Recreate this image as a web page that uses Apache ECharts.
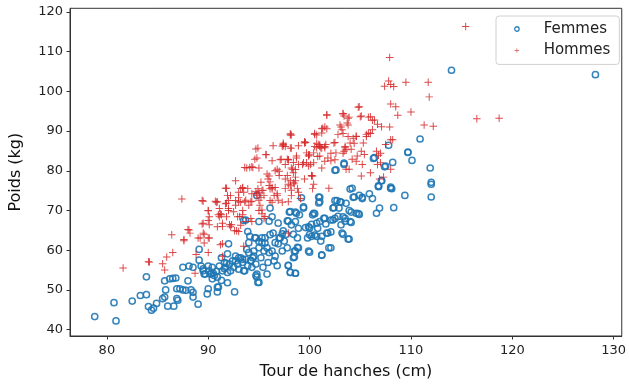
<!DOCTYPE html>
<html>
<head>
<meta charset="utf-8">
<script src="https://cdn.jsdelivr.net/npm/echarts@6/dist/echarts.min.js"></script>
<style>
  html, body { margin: 0; padding: 0; background: #fff; }
  #chart { width: 629px; height: 385px; }
</style>
</head>
<body>
<div id="chart"></div>
<script>
// [tour de hanches (cm), poids (kg)]
const femmes = [
  [78.8,43.3],[80.9,42.2],[80.7,46.8],[82.5,47.2],[83.3,48.6],[83.9,48.8],[83.9,53.3],[84.1,45.8],[84.4,44.9],[84.6,45.4],
  [84.9,46.6],[85.5,47.8],[85.7,48.2],[85.8,50.0],[85.7,52.3],[86.2,52.8],[86.5,52.9],[86.8,53.0],[86.0,45.9],[86.6,45.9],
  [86.9,50.3],[87.2,50.3],[87.5,50.0],[87.8,49.9],[88.3,50.0],[86.9,47.8],[87.0,47.4],[87.5,55.7],[88.1,56.0],[88.5,55.7],
  [88.0,52.3],[88.5,48.2],[89.0,46.4],[88.5,49.4],[89.1,57.5],[89.3,56.0],[89.5,54.8],[89.6,54.0],[89.1,60.2],[90.0,56.0],
  [90.1,54.8],[90.3,54.2],[90.4,55.7],[90.6,53.6],[90.8,54.7],[90.9,53.2],[91.1,56.0],[90.0,50.3],[90.9,50.7],[90.9,49.5],
  [89.9,49.0],[91.3,58.1],[91.4,54.8],[91.6,56.9],[91.7,55.7],[91.9,54.4],[92.1,56.5],[92.2,54.8],[92.4,57.3],[92.0,61.6],
  [91.9,51.8],[92.6,49.5],[92.7,58.5],[92.9,56.5],[93.0,55.2],[93.2,58.1],[93.4,56.9],[93.5,54.8],[93.7,57.7],[93.9,56.1],
  [94.0,59.4],[94.2,57.3],[94.3,55.7],[94.5,58.5],[94.7,56.5],[94.8,54.0],[94.9,51.9],[93.7,67.6],[93.5,67.5],[94.7,63.1],
  [95.0,62.2],[95.3,63.1],[95.6,61.8],[95.8,60.6],[96.0,59.4],[96.1,63.9],[96.3,59.8],[96.5,57.3],[96.6,58.5],[96.8,56.1],
  [96.9,61.6],[97.1,63.1],[97.3,59.8],[95.0,51.9],[94.8,53.2],[95.8,54.0],[96.1,70.6],[96.3,68.4],[96.0,67.3],[89.5,55.3],
  [89.7,54.0],[90.2,54.0],[90.5,54.2],[90.4,52.8],[91.0,50.7],[91.3,52.4],[91.6,55.3],[91.8,56.7],[91.9,59.1],[92.5,55.7],
  [92.7,57.3],[93.0,58.1],[93.4,57.7],[93.6,54.8],[93.8,60.2],[93.9,64.7],[94.0,61.9],[94.1,63.5],[94.2,57.4],[94.4,58.1],
  [94.5,59.8],[94.6,63.1],[94.7,53.6],[94.8,73.8],[95.0,60.6],[95.0,67.2],[95.2,58.1],[95.3,61.9],[95.4,55.7],[95.5,59.8],
  [95.6,63.1],[95.9,56.9],[96.4,64.3],[96.6,61.9],[96.9,66.8],[97.0,63.1],[97.3,64.1],[97.4,64.9],[97.5,62.3],[97.7,64.0],
  [97.8,67.4],[97.8,60.6],[97.9,56.1],[98.1,54.4],[98.1,69.7],[98.2,66.4],[98.4,58.1],[98.4,64.0],[98.5,59.8],[98.6,54.2],
  [98.7,69.3],[98.8,63.1],[98.9,60.6],[99.0,68.9],[99.2,73.2],[99.4,70.9],[99.6,65.7],[99.8,63.1],[99.9,59.8],[100.0,65.6],
  [100.3,68.9],[100.4,69.3],[100.5,63.8],[100.7,63.5],[100.9,73.4],[101.0,72.2],[101.1,62.3],[101.2,58.8],[101.4,68.0],[101.6,66.6],
  [101.7,64.3],[101.9,60.6],[102.1,64.6],[102.3,67.6],[102.4,70.7],[102.6,80.2],[102.8,68.5],[103.0,72.2],[103.1,66.4],[103.2,64.3],
  [103.4,81.6],[103.5,68.0],[103.6,71.8],[103.8,62.8],[104.0,67.2],[104.2,75.6],[104.4,73.4],[104.6,69.3],[104.9,69.0],[105.2,73.0],
  [105.9,74.2],[106.2,73.0],[106.4,83.3],[106.6,69.3],[106.8,76.1],[107.1,77.5],[107.5,81.2],[107.8,86.4],[108.0,75.9],[108.1,75.5],
  [108.2,82.1],[108.3,70.7],[109.4,73.8],[109.7,84.7],[110.1,82.6],[110.9,88.0],[111.9,80.7],[112.0,77.1],[112.0,76.6],[112.0,73.4],
  [114.0,105.3],[128.2,104.2],[106.9,70.6],[108.0,75.6],[106.8,76.0],[105.2,73.3],[104.9,73.8],[104.3,73.3],[104.0,75.4],[104.8,69.2],
  [104.1,69.6],[103.9,70.0],[103.3,68.4],[103.5,67.3],[104.1,67.0],[103.3,64.0],[103.9,62.8],[102.1,60.6],[102.5,72.5],[102.7,72.5],
  [103.1,72.1],[102.9,70.6],[102.3,70.6],[102.5,68.0],[102.1,67.6],[101.5,68.0],[101.0,67.2],[100.8,65.5],[101.2,63.5],[101.8,64.3],
  [100.0,63.9],[100.2,63.5],[100.7,66.8],[99.9,65.9],[100.2,66.5],[100.5,69.2],[99.4,70.6],[101.0,73.3],[100.9,71.9],[98.6,69.6],
  [98.9,65.5],[98.6,67.2],[97.9,67.3],[98.0,69.6],[98.8,60.7],[98.6,59.8],[97.9,56.2],[98.1,54.4],[98.6,54.2],[101.2,58.7],
  [100.0,59.5],[98.5,58.3],[107.4,81.0],[106.3,83.1],[103.4,81.9],[102.5,80.1],[107.1,77.5],[106.8,76.2],[109.7,84.6]
];

const hommes = [
  [81.6,55.5],[84.2,57.0],[85.5,56.6],[85.7,55.0],[85.9,58.3],[86.5,59.4],[86.4,63.9],[87.4,72.9],[87.6,62.4],[88.1,65.1],
  [88.2,64.3],[88.8,58.9],[88.7,54.2],[89.2,63.1],[89.6,61.8],[90.0,63.1],[89.4,72.5],[89.5,66.8],[89.6,64.0],[90.0,70.0],
  [90.1,68.4],[90.0,67.5],[90.0,59.4],[90.7,72.3],[90.9,65.9],[91.1,68.4],[91.2,69.2],[91.4,66.8],[91.2,61.4],[91.4,58.5],
  [91.7,71.7],[92.0,72.5],[92.0,70.0],[91.8,68.4],[92.2,65.9],[92.7,72.5],[92.9,68.4],[93.0,64.7],[93.2,66.3],[93.4,75.6],
  [93.5,74.6],[93.7,67.2],[93.0,73.3],[94.7,74.7],[94.8,73.8],[95.0,74.6],[95.3,75.0],[95.5,68.0],[95.3,69.2],[94.3,67.2],
  [94.2,68.0],[96.1,72.5],[96.3,75.4],[96.6,75.8],[96.8,73.8],[89.5,72.3],[90.8,72.1],[91.8,75.6],[92.7,77.5],[93.0,74.6],
  [93.2,72.1],[93.4,75.8],[93.8,80.7],[94.3,81.0],[94.9,85.7],[94.8,83.2],[95.0,80.7],[95.7,84.0],[96.0,78.7],[96.1,77.2],
  [96.4,86.3],[96.3,75.8],[96.8,74.2],[97.1,82.8],[97.0,79.9],[97.4,86.3],[97.6,81.6],[97.9,82.8],[98.1,85.7],[98.2,89.0],
  [98.4,79.5],[98.6,77.5],[98.7,83.2],[98.9,74.6],[99.5,87.3],[99.7,82.0],[99.9,84.0],[100.2,78.7],[100.4,76.6],[100.5,89.4],
  [100.7,86.9],[100.8,83.6],[101.0,86.1],[101.2,80.7],[98.1,76.2],[98.2,73.8],[97.3,72.1],[96.3,72.1],[95.2,73.3],[94.3,72.3],
  [92.7,71.3],[93.4,70.0],[95.0,70.0],[84.1,57.1],[87.6,62.7],[88.0,65.2],[89.0,63.1],[89.4,66.6],[89.5,64.3],[90.0,69.9],
  [90.1,66.4],[90.1,63.1],[90.9,72.2],[91.0,68.9],[91.1,70.5],[91.3,68.9],[91.4,66.0],[91.4,61.6],[91.7,75.6],[91.8,71.8],
  [91.9,73.8],[92.0,70.5],[92.1,66.4],[92.2,73.8],[92.3,66.4],[92.5,69.7],[92.6,64.9],[92.8,64.9],[93.0,72.2],[93.1,68.5],
  [93.2,75.5],[93.4,68.9],[93.6,80.8],[93.6,72.2],[93.7,72.6],[93.9,75.5],[94.0,71.3],[94.1,80.8],[94.2,72.2],[94.3,74.2],
  [94.4,80.8],[94.6,82.9],[94.7,85.5],[94.8,74.2],[94.9,75.5],[95.0,72.6],[95.1,71.3],[95.2,77.1],[95.3,70.1],[95.4,75.1],
  [95.5,73.8],[95.6,68.5],[95.7,84.1],[95.8,79.2],[95.9,77.9],[96.0,76.3],[96.1,75.5],[96.3,82.5],[96.5,73.8],[96.6,80.0],
  [96.8,80.4],[96.9,72.6],[97.0,78.8],[97.2,82.9],[97.3,86.2],[97.4,86.6],[97.6,75.5],[97.8,78.8],[97.8,82.9],[97.9,72.2],
  [98.1,89.3],[98.1,77.5],[98.2,75.1],[98.3,80.4],[98.4,82.1],[98.5,76.7],[98.6,78.4],[98.7,83.7],[98.8,75.5],[98.9,86.3],
  [99.1,73.0],[99.3,81.6],[99.5,87.0],[99.7,84.5],[99.9,83.7],[100.1,81.6],[100.2,78.8],[100.3,75.5],[100.4,84.5],[100.5,89.1],
  [100.7,85.8],[100.9,86.6],[101.0,83.7],[101.1,85.8],[101.2,89.5],[101.3,90.7],[101.5,85.8],[101.6,86.6],[101.7,94.0],[101.9,75.6],
  [102.1,82.5],[102.4,87.0],[102.6,84.5],[102.8,89.1],[103.0,91.5],[103.2,90.3],[103.3,94.4],[103.4,84.9],[103.5,85.8],[103.6,80.4],
  [103.7,92.0],[103.8,93.2],[103.9,80.4],[104.0,87.0],[104.1,85.4],[104.2,82.9],[104.3,88.2],[104.6,88.7],[104.7,83.7],[104.9,96.1],
  [105.0,93.6],[105.3,87.0],[105.4,84.1],[105.6,89.1],[105.8,89.5],[106.0,93.6],[106.2,90.3],[106.4,92.8],[106.6,84.9],[106.8,83.9],
  [107.1,91.1],[107.3,78.4],[107.5,86.6],[107.9,108.5],[108.0,80.4],[108.2,87.8],[108.5,96.1],[108.7,94.0],[110.0,94.8],[111.8,98.6],
  [115.4,116.3],[118.7,93.2],[107.8,102.6],[108.0,101.7],[107.4,101.3],[108.3,101.2],[109.5,102.3],[111.7,102.3],[108.0,96.8],[104.8,96.0],
  [103.3,94.3],[103.4,93.8],[103.9,93.5],[105.1,93.8],[105.8,93.5],[106.2,92.7],[106.7,91.7],[101.7,94.1],[111.3,91.5],[112.2,91.2],
  [116.5,93.1],[107.9,91.0],[108.0,87.8],[106.0,89.4],[105.6,88.6],[104.6,88.6],[104.4,86.9],[105.1,84.9],[103.1,91.0],[103.8,91.5],
  [103.3,89.4],[103.5,86.1],[103.6,85.3],[103.3,84.4],[103.8,88.6],[101.5,91.0],[101.7,90.6],[101.2,90.6],[100.7,89.0],[101.0,86.5],
  [101.2,85.7],[101.5,86.1],[102.5,87.1],[102.1,84.4],[101.8,83.2],[101.5,82.4],[102.5,82.8],[99.6,87.1],[100.5,86.1],[100.0,84.0],
  [100.4,82.0],[99.9,81.2],[99.4,82.0],[98.9,81.6],[98.6,80.3],[98.2,80.7],[98.1,89.0],[98.2,85.7],[97.6,86.1],[97.4,86.9],
  [97.9,82.8],[105.2,81.6],[104.6,82.4],[107.0,84.4],[106.7,81.6],[106.0,79.5],[105.1,78.7],[107.0,82.0],[100.3,78.7],[99.5,77.9],
  [98.4,77.0],[97.6,77.9],[97.9,76.6],[106.9,77.9],[97.9,64.3],[93.5,61.0]
];

const xTicks = [80, 90, 100, 110, 120, 130];
const yTicks = [40, 50, 60, 70, 80, 90, 100, 110, 120];

const blue = "#1f77b4";
const red = "#d62728";
const plusPath = "path://M4.35,0 H5.65 V4.35 H10 V5.65 H5.65 V10 H4.35 V5.65 H0 V4.35 H4.35 Z";
const font = "DejaVu Sans";

const chart = echarts.init(document.getElementById("chart"), null, { renderer: "canvas" });

const axisCommon = {
  type: "value",
  nameLocation: "middle",
  nameTextStyle: { fontFamily: font, fontSize: 16, color: "#111" },
  axisLine: { show: true, lineStyle: { color: "#333", width: 1 } },
  axisTick: { show: true, length: 3.5, lineStyle: { color: "#333" } },
  axisLabel: { fontFamily: font, fontSize: 13, color: "#222" },
  splitLine: { show: false },
};

chart.setOption({
  animation: false,
  textStyle: { fontFamily: font },
  grid: {
    left: 65.7, right: 6, top: 8.3, bottom: 41.7,
    show: true, borderColor: "#333", borderWidth: 1,
  },
  legend: {
    orient: "vertical",
    left: 496, top: 16,
    padding: [5, 9, 6, 18],
    itemGap: 5.4,
    itemWidth: 4.5, itemHeight: 4.5,
    borderColor: "#d0d0d0", borderWidth: 1, borderRadius: 3,
    backgroundColor: "#fff",
    textStyle: { fontFamily: font, fontSize: 15, color: "#222", lineHeight: 16, padding: [0, 0, 0, 19.5] },
    data: [
      { name: "Femmes", icon: "circle", itemStyle: { color: "transparent", borderColor: blue, borderWidth: 1.3 } },
      { name: "Hommes", icon: plusPath, itemStyle: { color: red, borderWidth: 0 } },
    ],
  },
  xAxis: {
    ...axisCommon,
    name: "Tour de hanches (cm)",
    nameGap: 28,
    min: 76.36, max: 130.8,
    axisTick: { ...axisCommon.axisTick, customValues: xTicks },
    axisLabel: { ...axisCommon.axisLabel, margin: 8, customValues: xTicks },
  },
  yAxis: {
    ...axisCommon,
    name: "Poids (kg)",
    nameGap: 46,
    min: 38.4, max: 120.9,
    axisTick: { ...axisCommon.axisTick, customValues: yTicks },
    axisLabel: { ...axisCommon.axisLabel, margin: 7, customValues: yTicks },
  },
  series: [
    {
      name: "Femmes",
      type: "scatter",
      data: femmes,
      symbol: "circle",
      symbolSize: 6.2,
      itemStyle: { color: "transparent", borderColor: blue, borderWidth: 1.5, opacity: 0.9 },
      z: 2,
    },
    {
      name: "Hommes",
      type: "scatter",
      data: hommes,
      symbol: plusPath,
      symbolSize: 7.5,
      itemStyle: { color: red, opacity: 0.85 },
      z: 3,
    },
  ],
});

window.addEventListener("resize", () => chart.resize());
</script>
</body>
</html>
